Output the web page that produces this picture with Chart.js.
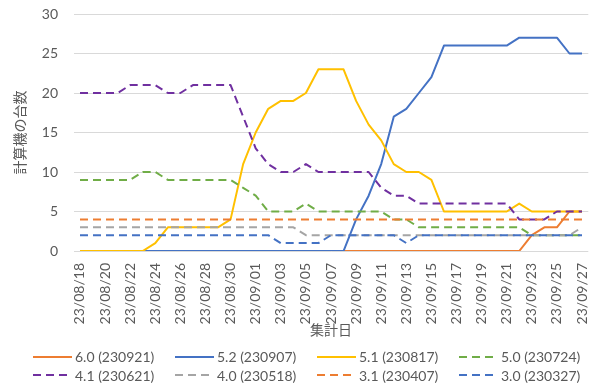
<!DOCTYPE html>
<html>
<head>
<meta charset="utf-8">
<script src="https://cdn.jsdelivr.net/npm/chart.js@4.4.1/dist/chart.umd.min.js"></script>
<style>
  html, body { margin: 0; padding: 0; background: #fff; }
  #wrap { position: relative; width: 592px; height: 383px; }
  #legend { position: absolute; left: 0; top: 0; width: 592px; height: 383px; pointer-events: none;
            font: 14px Lato, 'Noto Sans CJK JP', sans-serif; color: #595959; }
  .item { position: absolute; display: flex; align-items: center; height: 18px; white-space: nowrap; }
  .item svg { display: block; margin-right: 3.5px; }
</style>
</head>
<body>
<div id="wrap">
  <canvas id="c" width="592" height="383"></canvas>
  <div id="legend"></div>
</div>
<script>
// Collection dates (yy/mm/dd)
const dates = [
  '23/08/18','23/08/19','23/08/20','23/08/21','23/08/22','23/08/23','23/08/24','23/08/25',
  '23/08/26','23/08/27','23/08/28','23/08/29','23/08/30','23/08/31','23/09/01','23/09/02',
  '23/09/03','23/09/04','23/09/05','23/09/06','23/09/07','23/09/08','23/09/09','23/09/10',
  '23/09/11','23/09/12','23/09/13','23/09/14','23/09/15','23/09/16','23/09/17','23/09/18',
  '23/09/19','23/09/20','23/09/21','23/09/22','23/09/23','23/09/24','23/09/25','23/09/26',
  '23/09/27'
];

// Number of machines per version, one value per date
const v60 = [0,0,0,0,0,0,0,0,0,0,0,0,0,0,0,0,0,0,0,0,0,0,0,0,0,0,0,0,0,0,0,0,0,0,0,0,2,3,3,5,5];
const v52 = [0,0,0,0,0,0,0,0,0,0,0,0,0,0,0,0,0,0,0,0,0,0,4,7,11,17,18,20,22,26,26,26,26,26,26,27,27,27,27,25,25];
const v51 = [0,0,0,0,0,0,1,3,3,3,3,3,4,11,15,18,19,19,20,23,23,23,19,16,14,11,10,10,9,5,5,5,5,5,5,6,5,5,5,5,5];
const v50 = [9,9,9,9,9,10,10,9,9,9,9,9,9,8,7,5,5,5,6,5,5,5,5,5,5,4,4,3,3,3,3,3,3,3,3,3,2,2,2,2,2];
const v41 = [20,20,20,20,21,21,21,20,20,21,21,21,21,17,13,11,10,10,11,10,10,10,10,10,8,7,7,6,6,6,6,6,6,6,6,4,4,4,5,5,5];
const v40 = [3,3,3,3,3,3,3,3,3,3,3,3,3,3,3,3,3,3,2,2,2,2,2,2,2,2,2,2,2,2,2,2,2,2,2,2,2,2,2,2,3];
const v31 = [4,4,4,4,4,4,4,4,4,4,4,4,4,4,4,4,4,4,4,4,4,4,4,4,4,4,4,4,4,4,4,4,4,4,4,4,4,4,4,4,4];
const v30 = [2,2,2,2,2,2,2,2,2,2,2,2,2,2,2,2,1,1,1,1,2,2,2,2,2,2,1,2,2,2,2,2,2,2,2,2,2,2,2,2,2];

const seriesNames = ['6.0 (230921)','5.2 (230907)','5.1 (230817)','5.0 (230724)',
                     '4.1 (230621)','4.0 (230518)','3.1 (230407)','3.0 (230327)'];
const seriesValues = [v60, v52, v51, v50, v41, v40, v31, v30];

// Line styles
const lineColors = ['#ED7D31','#4472C4','#FFC000','#70AD47','#7030A0','#A5A5A5','#ED7D31','#4472C4'];
const dashed     = [false, false, false, true, true, true, true, true];
const DASH = [8, 5];

const latin = "Lato, 'Noto Sans CJK JP', sans-serif";
const cjk = "'Noto Sans CJK JP', sans-serif";
const textColor = '#595959';

const datasets = seriesNames.map((name, i) => ({
  label: name,
  data: seriesValues[i],
  borderColor: lineColors[i],
  backgroundColor: lineColors[i],
  borderDash: dashed[i] ? DASH : [],
  borderWidth: 2,
  borderJoinStyle: 'round',
  pointRadius: 0,
  pointHoverRadius: 0,
  tension: 0,
  fill: false,
  order: -i            // later series are painted over earlier ones
}));

const chart = new Chart(document.getElementById('c'), {
  type: 'line',
  data: { labels: dates, datasets },
  options: {
    responsive: false,
    animation: false,
    devicePixelRatio: 1,
    layout: { padding: { left: 0, right: 3.7, top: 14, bottom: 0 } },
    plugins: { legend: { display: false }, tooltip: { enabled: false } },
    scales: {
      x: {
        offset: true,
        grid: { display: false, drawTicks: true, tickLength: 12 },
        border: { display: false },
        ticks: {
          autoSkip: false, minRotation: 90, maxRotation: 90, padding: 0,
          color: textColor, font: { family: latin, size: 14 },
          callback: (v, i) => (i % 2 === 0 ? dates[i] : '')
        },
        title: { display: true, text: '集計日', color: textColor,
                 font: { family: cjk, size: 14 }, padding: { top: 0, bottom: 45 } },
        afterFit: s => { s.height = 132; s.paddingLeft = 0; s.paddingRight = 0; }
      },
      y: {
        min: 0, max: 30,
        ticks: { stepSize: 5, padding: 15.7, color: textColor, font: { family: latin, size: 14 } },
        grid: { color: '#d9d9d9', lineWidth: 1, drawTicks: false },
        border: { display: false },
        title: { display: true, text: '計算機の台数', color: textColor,
                 font: { family: cjk, size: 14 }, padding: { top: 11.6, bottom: 0 } },
        afterFit: s => { s.width = 73.7; s.paddingTop = 0; s.paddingBottom = 0; }
      }
    }
  }
});

// Legend: two rows of four entries under the axis title
const legend = document.getElementById('legend');
const rowCenters = [356.7, 375];
chart.data.datasets.forEach((ds, i) => {
  const col = i % 4, row = Math.floor(i / 4);
  const item = document.createElement('div');
  item.className = 'item';
  item.style.left = (32.5 + col * 142) + 'px';
  item.style.top = (rowCenters[row] - 9) + 'px';
  const svgNS = 'http://www.w3.org/2000/svg';
  const svg = document.createElementNS(svgNS, 'svg');
  svg.setAttribute('width', '39');
  svg.setAttribute('height', '18');
  const ln = document.createElementNS(svgNS, 'line');
  ln.setAttribute('x1', '0'); ln.setAttribute('y1', '9');
  ln.setAttribute('x2', '39'); ln.setAttribute('y2', '9');
  ln.setAttribute('stroke', ds.borderColor);
  ln.setAttribute('stroke-width', '2');
  if (ds.borderDash.length) ln.setAttribute('stroke-dasharray', ds.borderDash.join(' '));
  svg.appendChild(ln);
  const txt = document.createElement('span');
  txt.textContent = ds.label;
  item.appendChild(svg);
  item.appendChild(txt);
  legend.appendChild(item);
});
</script>
</body>
</html>
